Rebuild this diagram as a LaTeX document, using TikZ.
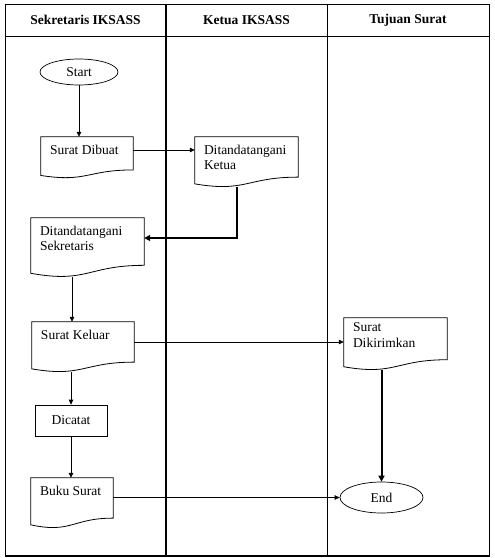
\documentclass[tikz,border=0pt]{standalone}
\usepackage{fontspec}
\setmainfont{Liberation Serif}
\usetikzlibrary{arrows.meta,calc,shapes.geometric}
\tikzset{
  base/.style={font=\fontsize{13.5}{15.5}\selectfont,inner sep=0pt},
  term/.style={base,ellipse,draw,line width=.7pt},
  proc/.style={base,rectangle,draw,line width=.7pt},
  doc/.style={base,rectangle,draw=none},
  doctext/.style={base,anchor=north west,align=left,inner xsep=9pt,inner ysep=8pt},
  docline/.style={draw,line width=.8pt},
  lanehead/.style={font=\bfseries\fontsize{13.5}{15.5}\selectfont},
  lane/.style={line width=1pt},
  link/.style={-{Triangle[length=5pt,width=4.5pt]},line width=.7pt},
  strong/.style={-{Triangle[length=6pt,width=6pt]},line width=2pt},
}
\begin{document}
\begin{tikzpicture}[x=1pt,y=-1pt]
  \useasboundingbox (0,0) rectangle (495,558);
  % swimlanes
  \draw[lane] (5,4) rectangle (489,556);
  \draw[lane] (5,36) -- (489,36);
  \draw[lane,line width=2pt] (166,4) -- (166,556);
  \draw[lane] (327,4) -- (327,556);
  \draw[lane,line width=2pt] (5,556) -- (489,556);
  \node[lanehead] (hsek) at (85.5,20) {Sekretaris IKSASS};
  \node[lanehead] (hket) at (246.5,20) {Ketua IKSASS};
  \node[lanehead] (htuj) at (408,20) {Tujuan Surat};
  % flow
  \node[term,minimum width=78pt,minimum height=26pt] (start) at (79,72) {Start};
  \node[doc,minimum width=92pt,minimum height=41pt,
    label={[doctext]north west:Surat Dibuat}] (dibuat) at (87,157.5) {};
  \node[doc,minimum width=103pt,minimum height=50pt,
    label={[doctext]north west:Ditandatangani\\Ketua}] (ketua) at (246.5,162) {};
  \node[doc,minimum width=113pt,minimum height=59pt,
    label={[doctext]north west:Ditandatangani\\Sekretaris}] (sekre) at (87.5,247.5) {};
  \node[doc,minimum width=102pt,minimum height=50pt,
    label={[doctext]north west:Surat Keluar}] (keluar) at (83,347) {};
  \node[doc,minimum width=103pt,minimum height=52pt,
    label={[doctext,inner ysep=5pt]north west:Surat\\Dikirimkan}] (kirim) at (395.5,344) {};
  \node[proc,minimum width=72pt,minimum height=31pt] (dicatat) at (71,420.5) {Dicatat};
  \node[doc,minimum width=82pt,minimum height=50pt,
    label={[doctext]north west:Buku Surat}] (buku) at (72,503) {};
  \node[term,minimum width=83pt,minimum height=31pt] (end) at (381.5,497.5) {End};
  % document outlines with wavy bottom
  \foreach \n in {dibuat,ketua,sekre,keluar,kirim,buku} {
    \draw[docline] (\n.north west) -- (\n.north east)
      -- ($(\n.south east)!.2!(\n.north east)$)
      .. controls ($(\n.south)!.2!(\n.north)$) and ($(\n.south)!-.107!(\n.north)$)
      .. ($(\n.south west)!.066!(\n.north west)$) -- cycle;
  }
  % connectors
  \draw[link] (start.south) -- (start.south |- dibuat.north);
  \draw[link] ([yshift=7.5pt]dibuat.east) -- ([yshift=7.5pt]dibuat.east -| ketua.west);
  \draw[strong] ([xshift=-9.5pt]ketua.south) |- ([yshift=9.5pt]sekre.east);
  \draw[link] ([xshift=-11pt]keluar.north |- sekre.south) -- ([xshift=-11pt]keluar.north);
  \draw[link] ([yshift=5pt]keluar.east) -- ([yshift=5pt]keluar.east -| kirim.west);
  \draw[link] (dicatat.north |- keluar.south) -- (dicatat.north);
  \draw[link] (dicatat.south) -- (dicatat.south |- buku.north);
  \draw[link] (buku.east |- end.west) -- (end.west);
  \draw[strong] (end.north |- kirim.south) -- (end.north);
\end{tikzpicture}
\end{document}
